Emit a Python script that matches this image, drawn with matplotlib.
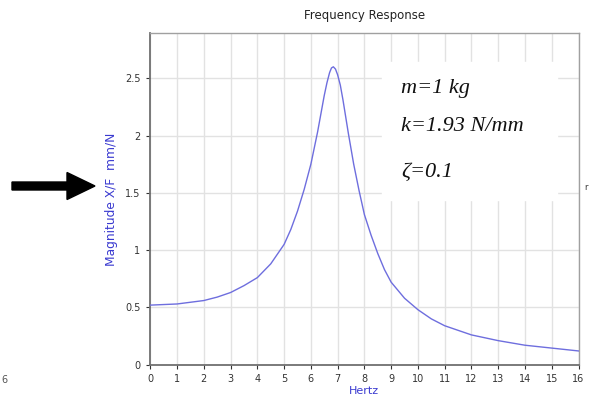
import matplotlib
matplotlib.use("Agg")
import matplotlib.pyplot as plt
from matplotlib.patches import FancyArrow, Rectangle

# values
hertz = [0, 1, 1.5, 2, 2.5, 3, 3.5, 4, 4.5, 5, 5.25, 5.5, 5.75, 6, 6.25, 6.5, 6.6, 6.7,
         6.77, 6.84, 6.92, 7.0, 7.1, 7.2, 7.4, 7.6, 7.8, 8, 8.25, 8.5, 8.75, 9, 9.5,
         10, 10.5, 11, 11.5, 12, 12.5, 13, 14, 15, 16]
magnitude = [0.52, 0.53, 0.545, 0.56, 0.59, 0.63, 0.69, 0.76, 0.88, 1.05, 1.18, 1.34,
             1.53, 1.75, 2.03, 2.35, 2.46, 2.55, 2.59, 2.60, 2.58, 2.53, 2.44, 2.31,
             2.02, 1.75, 1.52, 1.31, 1.13, 0.97, 0.83, 0.72, 0.58, 0.48, 0.40, 0.34,
             0.30, 0.26, 0.235, 0.21, 0.17, 0.145, 0.12]
x_ticks = list(range(0, 17))
y_ticks = [0, 0.5, 1, 1.5, 2, 2.5]
y_labels = ["0", "0.5", "1", "1.5", "2", "2.5"]
params = ["m=1 kg", "k=1.93 N/mm", "\u03b6=0.1"]

W, H = 590, 404
fig = plt.figure(figsize=(W / 100, H / 100), dpi=100)
ax = fig.add_axes([150.3 / W, 1 - 364.7 / H, (578.5 - 150.3) / W, (364.7 - 33) / H])

ax.plot(hertz, magnitude, color="#6e6ede", lw=1.0, zorder=3)
ax.set_xlim(0, 16)
ax.set_ylim(0, 2.895)
ax.set_xticks(x_ticks)
ax.set_yticks(y_ticks)
ax.set_yticklabels(y_labels)
ax.grid(True, color="#e2e2e2", lw=1)
ax.set_axisbelow(True)
ax.tick_params(labelsize=7, colors="#333333", length=3, width=0.8, pad=4)
for s in ["top", "right"]:
    ax.spines[s].set_color("#a0a0a0")
    ax.spines[s].set_linewidth(1)
for s in ["left", "bottom"]:
    ax.spines[s].set_color("#707070")
    ax.spines[s].set_linewidth(1.3)

ax.set_xlabel("Hertz", color="#3a3ad0", fontsize=8, labelpad=1)
ax.set_ylabel("Magnitude X/F  mm/N", color="#3a3ad0", fontsize=8.8, labelpad=5)
ax.set_title("Frequency Response", fontsize=8.5, color="#222222", pad=10)

# white box behind the parameter text
fig.patches.append(Rectangle((382 / W, 1 - 200 / H), 175 / W, 138 / H, transform=fig.transFigure,
                             color="white", zorder=2))

baselines = [92.7, 131, 177]
for txt, yb in zip(params, baselines):
    fig.text(401 / W, 1 - yb / H, txt, fontsize=16, style="italic",
             family="Liberation Serif", color="#111111", va="baseline", zorder=4)

# arrow pointing at the axis
fig.patches.append(FancyArrow(0.12, (H - 186) / 100, 0.55, 0, width=0.08, head_width=0.27,
                              head_length=0.28, length_includes_head=False,
                              transform=fig.dpi_scale_trans, color="black"))

# label fragments at the edges
fig.text(1 / W, 1 - 383 / H, "6", fontsize=7, color="#555555")
fig.text(584 / W, 1 - 190 / H, "r", fontsize=6, color="#333333")

fig.savefig("out.png", dpi=100)
